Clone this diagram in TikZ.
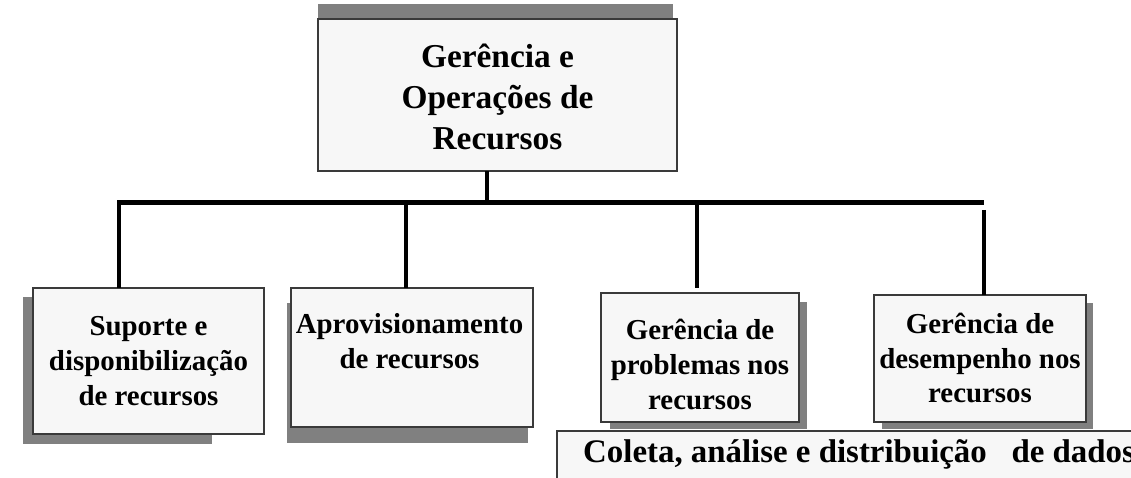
\documentclass[tikz,border=0pt]{standalone}
\usepackage{fontspec}
\setmainfont{Liberation Serif}
\usetikzlibrary{calc}
\definecolor{boxfill}{HTML}{F7F7F7}
\definecolor{boxline}{HTML}{3A3A3A}
\definecolor{shade}{HTML}{808080}
\tikzset{
  card/.style={draw=boxline, line width=1.3bp, fill=boxfill, inner sep=0pt, outer sep=0pt},
  shadowbox/.style={fill=shade, draw=none},
  cardtext/.style={align=center, inner sep=0pt, font=\fontsize{29}{35}\selectfont\bfseries},
  toptext/.style={align=center, inner sep=0pt, font=\fontsize{33.5}{41.5}\selectfont\bfseries},
  link/.style={line width=4.5bp, line cap=butt},
}
\begin{document}
\begin{tikzpicture}[x=1bp,y=-1bp]
\useasboundingbox (0,0) rectangle (1131,478);
\clip (0,0) rectangle (1131,478);
% shadows
\fill[shadowbox] (318,4) rectangle (673,40);
\fill[shadowbox] (23,297) rectangle (212,444);
\fill[shadowbox] (287,303) rectangle (528,443);
\fill[shadowbox] (610,302) rectangle (807,429);
\fill[shadowbox] (882,303) rectangle (1093,429);
% boxes
\node[card, minimum width=359bp, minimum height=152bp] (top) at (497.5,95) {};
\node[card, minimum width=231bp, minimum height=146bp] (b1) at (148.5,361) {};
\node[card, minimum width=242bp, minimum height=139bp] (b2) at (412,357.5) {};
\node[card, minimum width=198bp, minimum height=129bp] (b3) at (700,357.5) {};
\node[card, minimum width=212bp, minimum height=127bp] (b4) at (980,358.5) {};
\node[card, minimum width=600bp, minimum height=70bp, anchor=north west] (data) at (557,431) {};
% texts
\node[toptext] (ttop) at (497.5,97) {Gerência e\\Operações de\\Recursos};
\node[cardtext] (t1) at (148.5,361) {Suporte e\\disponibilização\\de recursos};
\node[cardtext] (t2) at (409.5,341) {Aprovisionamento\\de recursos};
\node[cardtext] (t3) at (700,364.5) {Gerência de\\problemas nos\\recursos};
\node[cardtext] (t4) at (980,358) {Gerência de\\desempenho nos\\recursos};
\node[anchor=west, inner sep=0pt, font=\fontsize{33}{38}\selectfont\bfseries] (tdata) at (583,454) {Coleta, análise e distribuição\hspace{0.75em}de dados};
% connectors
\coordinate (j0) at (487,203);
\coordinate (j1) at (119,203);
\coordinate (j2) at (406,203);
\coordinate (j3) at (697,203);
\coordinate (j4) at (984,203);
\coordinate (e3) at (697,288);
\coordinate (s4) at (984,210);
\draw[link, line width=4bp] (top.south -| j0) -- (j0);
\draw[link, line width=5bp] (j1) -- (j4);
\draw[link] ([yshift=2.5bp]j1) -- (j1 |- b1.north);
\draw[link] (j2) -- (j2 |- b2.north);
\draw[link] (j3) -- (e3);
\draw[link] (s4) -- (s4 |- b4.north);
\end{tikzpicture}
\end{document}
